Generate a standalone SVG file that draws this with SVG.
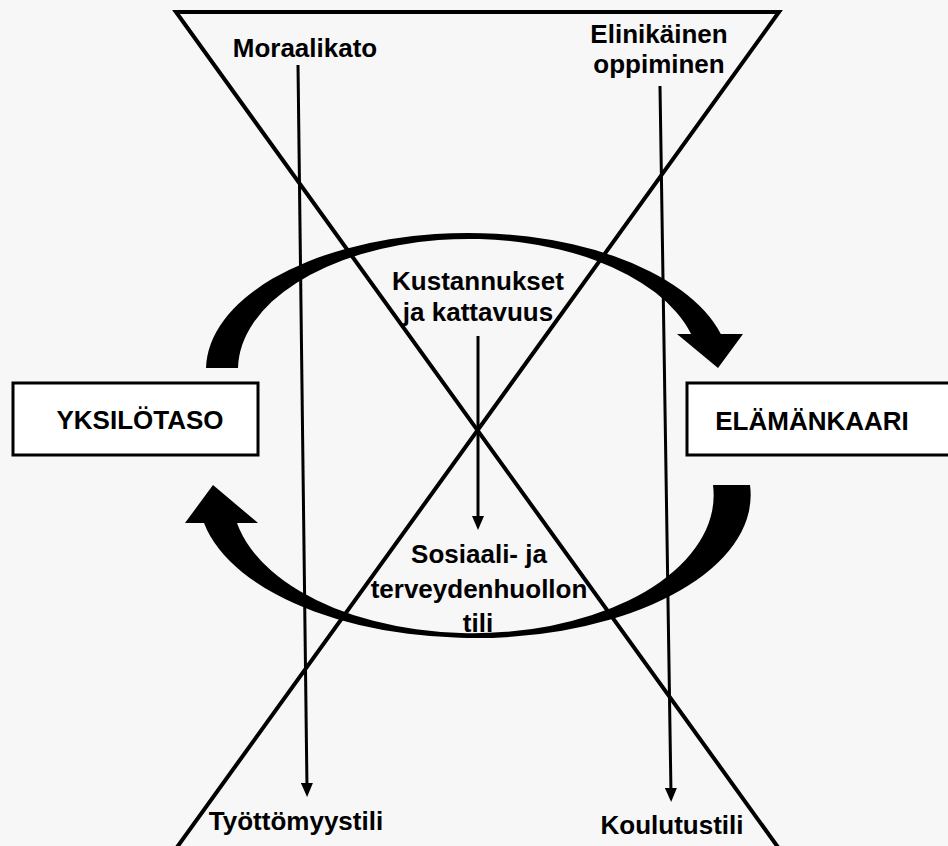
<svg xmlns="http://www.w3.org/2000/svg" width="948" height="846" viewBox="0 0 948 846">
<style>
  .t { font-family: "Liberation Sans", Arial, sans-serif; font-weight: bold; font-size: 26px; fill: #000; text-anchor: middle; }
  .box { fill: #fff; stroke: #000; stroke-width: 3; }
  .thin { stroke: #000; stroke-width: 3; fill: none; }
  .big { fill: #000; stroke: none; }
</style>
<defs>
  <marker id="ah" markerUnits="userSpaceOnUse" viewBox="0 0 14 12" refX="6" refY="6" markerWidth="14" markerHeight="12" orient="auto">
    <path d="M0,0 L14,6 L0,12 Z" fill="#000"/>
  </marker>
</defs>
<rect x="0" y="0" width="948" height="846" fill="#f7f7f7"/>

<g id="funnel">
  <path d="M 780 850 L 176 12 L 779 12 L 175 850" fill="none" stroke="#000" stroke-width="4" stroke-linejoin="miter"/>
</g>

<g id="cycle-arrows">
  <path class="big" d="M 206 368 A 262 137 0 0 1 720.8 334 L 743 334 L 718 368 L 677 334 L 691.1 334 A 231 131 0 0 0 238 368 Z"/>
  <path class="big" d="M 713 485 L 750 485 A 276 143 0 0 1 204 523 L 185 523 L 213 485 L 258 523 L 237 523 A 240.8 138 0 0 0 713 485 Z"/>
</g>

<g id="connectors">
  <line class="thin" x1="298" y1="65" x2="307" y2="789" marker-end="url(#ah)"/>
  <line class="thin" x1="660" y1="86" x2="671" y2="794" marker-end="url(#ah)"/>
  <line class="thin" x1="478" y1="336" x2="478" y2="522" marker-end="url(#ah)"/>
</g>

<g id="node-yksilotaso">
  <rect class="box" x="13" y="383" width="245" height="72"/>
  <text class="t" x="140" y="429">YKSILÖTASO</text>
</g>
<g id="node-elamankaari">
  <rect class="box" x="687" y="383" width="265" height="72"/>
  <text class="t" x="812" y="430">ELÄMÄNKAARI</text>
</g>
<g id="node-moraalikato">
  <text class="t" x="305" y="57">Moraalikato</text>
</g>
<g id="node-elinikainen">
  <text class="t" x="659" y="43">Elinikäinen</text>
  <text class="t" x="659" y="73">oppiminen</text>
</g>
<g id="node-kustannukset">
  <text class="t" x="478" y="290">Kustannukset</text>
  <text class="t" x="478" y="321">ja kattavuus</text>
</g>
<g id="node-sote">
  <text class="t" x="479" y="563">Sosiaali- ja</text>
  <text class="t" x="479" y="598">terveydenhuollon</text>
  <text class="t" x="478" y="632">tili</text>
</g>
<g id="node-tyottomyystili">
  <text class="t" x="296" y="830">Työttömyystili</text>
</g>
<g id="node-koulutustili">
  <text class="t" x="672" y="834">Koulutustili</text>
</g>
</svg>
